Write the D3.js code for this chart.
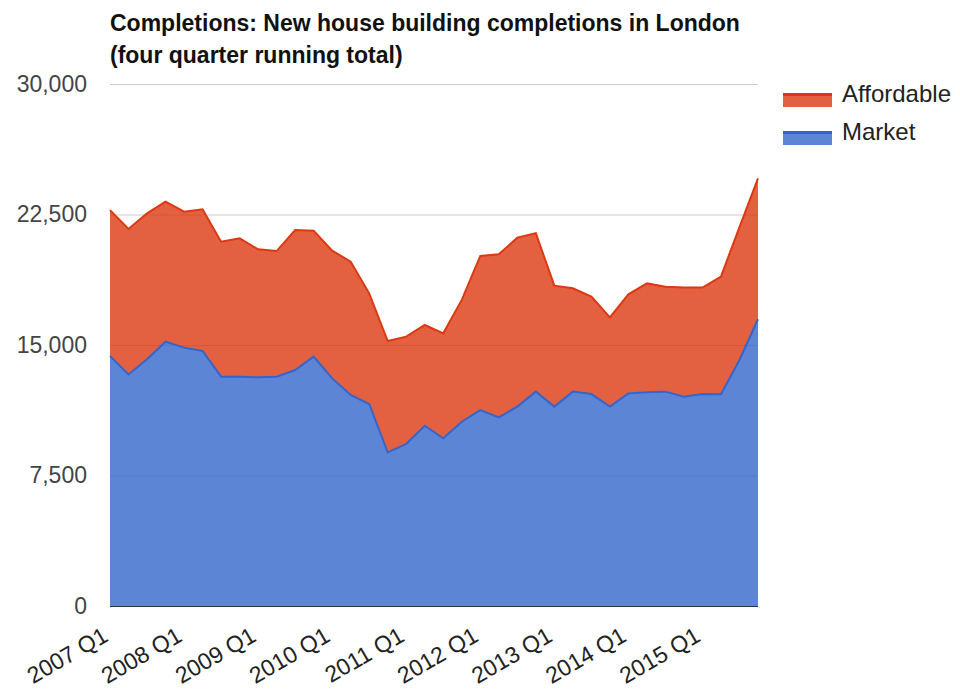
<!DOCTYPE html>
<html>
<head>
<meta charset="utf-8">
<script src="https://cdn.jsdelivr.net/npm/d3@7"></script>
<style>
  body { margin: 0; background: #fff; }
  svg text { font-family: "Liberation Sans", Arial, sans-serif; }
</style>
</head>
<body>
<svg id="chart" width="960" height="693"></svg>
<script>
// quarters 2007 Q1 .. 2015 Q4
var years = [2007, 2008, 2009, 2010, 2011, 2012, 2013, 2014, 2015];
var quarters = [];
years.forEach(function (y) { for (var q = 1; q <= 4; q++) quarters.push(y + " Q" + q); });

var market = [14370, 13310, 14180, 15190, 14850, 14660, 13180, 13180, 13140, 13180, 13560, 14330,
              13080, 12130, 11610, 8830, 9310, 10360, 9640, 10590, 11260, 10840, 11460, 12320,
              11460, 12320, 12180, 11460, 12220, 12280, 12320, 12030, 12180, 12170, 14140, 16480];
var affordable = [8380, 8360, 8390, 8050, 7810, 8140, 7760, 7950, 7360, 7220, 8050, 7240,
                  7340, 7660, 6360, 6400, 6170, 5790, 6030, 7000, 8860, 9370, 9710, 9100,
                  6950, 5940, 5600, 5130, 5690, 6260, 6030, 6270, 6120, 6760, 7640, 8100];
var yTicks = [0, 7500, 15000, 22500, 30000];
var seriesNames = ["Market", "Affordable"];
var colors = { Market: "#3366cc", Affordable: "#dc3912" };

var rows = quarters.map(function (q, i) {
    return { q: q, Market: market[i], Affordable: affordable[i] };
});

var svg = d3.select("#chart");
var plotLeft = 110, plotRight = 758, plotTop = 84, plotBottom = 606;

var x = d3.scalePoint().domain(quarters).range([plotLeft, plotRight]);
var y = d3.scaleLinear().domain([0, 30000]).range([plotBottom, plotTop]);

// title
svg.append("text").attr("x", 110).attr("y", 31)
    .attr("font-size", "23px").attr("font-weight", "bold").attr("fill", "#111")
    .text("Completions: New house building completions in London");
svg.append("text").attr("x", 110).attr("y", 63)
    .attr("font-size", "23px").attr("font-weight", "bold").attr("fill", "#111")
    .text("(four quarter running total)");

// gridlines + y labels
var yAxis = d3.axisLeft(y).tickValues(yTicks).tickSize(-(plotRight - plotLeft))
    .tickFormat(d3.format(","));
var gy = svg.append("g").attr("transform", "translate(" + plotLeft + ",0)").call(yAxis);
gy.select(".domain").remove();
gy.selectAll(".tick line").attr("stroke", "#cccccc").attr("stroke-width", 1);
gy.selectAll(".tick text").attr("x", -23).attr("font-size", "23px").attr("fill", "#444")
    .attr("font-family", "Liberation Sans, Arial, sans-serif");

var stack = d3.stack().keys(seriesNames);
var layers = stack(rows);

var area = d3.area()
    .x(function (d) { return x(d.data.q); })
    .y0(function (d) { return y(d[0]); })
    .y1(function (d) { return y(d[1]); });
var line = d3.line()
    .x(function (d) { return x(d.data.q); })
    .y(function (d) { return y(d[1]); });

svg.selectAll(".area").data(layers).enter().append("path")
    .attr("d", area)
    .attr("fill", function (d) { return colors[d.key]; })
    .attr("fill-opacity", 0.8);

svg.selectAll(".line").data(layers).enter().append("path")
    .attr("d", line)
    .attr("fill", "none")
    .attr("stroke", function (d) { return colors[d.key]; })
    .attr("stroke-width", 2);

// baseline
svg.append("line").attr("x1", plotLeft).attr("x2", plotRight)
    .attr("y1", y(0) + 0.5).attr("y2", y(0) + 0.5)
    .attr("stroke", "#333").attr("stroke-width", 1);

// x axis labels, rotated
var xAxis = d3.axisBottom(x)
    .tickValues(quarters.filter(function (q) { return /Q1$/.test(q); }))
    .tickSize(0);
var gx = svg.append("g").attr("transform", "translate(0," + plotBottom + ")").call(xAxis);
gx.select(".domain").remove();
gx.selectAll(".tick text")
    .attr("font-size", "23px").attr("fill", "#222")
    .attr("font-family", "Liberation Sans, Arial, sans-serif")
    .attr("text-anchor", "end")
    .attr("dy", null).attr("y", 0).attr("x", 0)
    .attr("transform", "translate(-1,34) rotate(-30)");

// legend
var legend = svg.append("g");
var legendItems = ["Affordable", "Market"];
legendItems.forEach(function (name, i) {
    var ly = 93 + i * 38;
    legend.append("rect").attr("x", 783).attr("y", ly).attr("width", 49).attr("height", 14)
        .attr("fill", colors[name]).attr("fill-opacity", 0.8);
    legend.append("rect").attr("x", 783).attr("y", ly).attr("width", 49).attr("height", 3)
        .attr("fill", colors[name]);
    legend.append("text").attr("x", 842).attr("y", ly + 9)
        .attr("font-size", "24px").attr("fill", "#222").text(name);
});
</script>
</body>
</html>
